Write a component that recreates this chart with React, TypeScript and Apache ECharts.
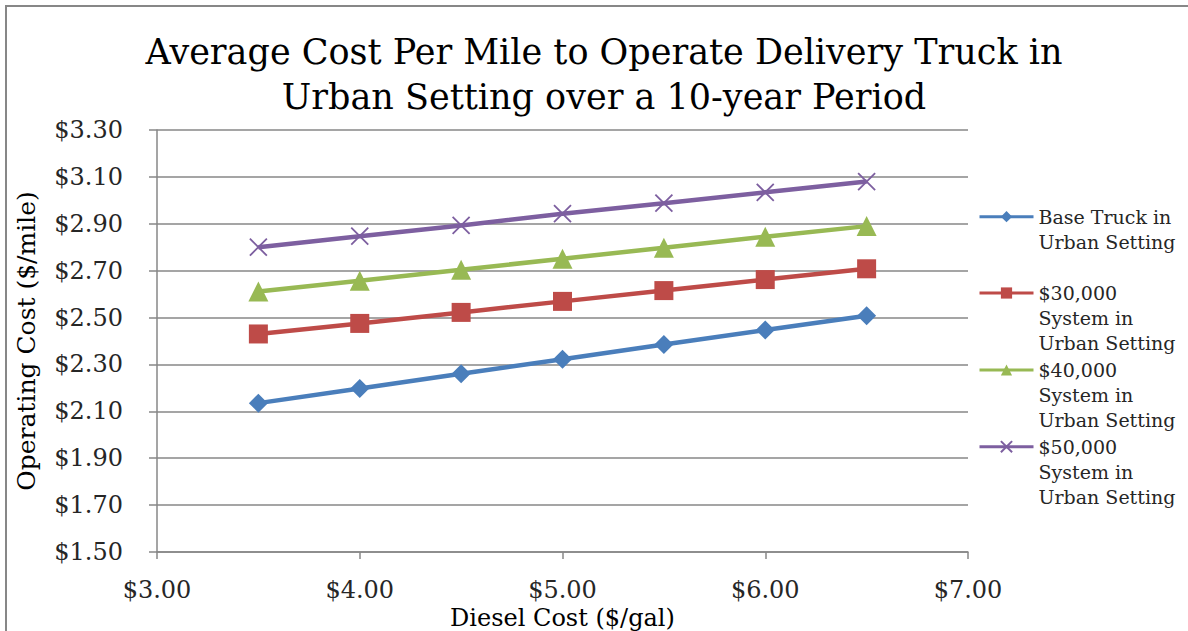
import React, { useEffect, useRef } from "react";
import * as echarts from "echarts";

const dieselCost = [3.5, 4, 4.5, 5, 5.5, 6, 6.5];
const baseTruck = [2.135, 2.197, 2.26, 2.322, 2.385, 2.447, 2.508];
const system30k = [2.43, 2.475, 2.522, 2.569, 2.615, 2.662, 2.708];
const system40k = [2.611, 2.657, 2.704, 2.751, 2.798, 2.845, 2.89];
const system50k = [2.8, 2.847, 2.893, 2.943, 2.988, 3.034, 3.08];
const yTicks = [1.5, 1.7, 1.9, 2.1, 2.3, 2.5, 2.7, 2.9, 3.1, 3.3];
const seriesNames = [
  "Base Truck in\nUrban Setting",
  "$30,000\nSystem in\nUrban Setting",
  "$40,000\nSystem in\nUrban Setting",
  "$50,000\nSystem in\nUrban Setting",
];
const titleText = "Average Cost Per Mile to Operate Delivery Truck in\nUrban Setting over a 10-year Period";
const xName = "Diesel Cost ($/gal)";
const yName = "Operating Cost ($/mile)";

const colors = ["#4A7EBB", "#BE4B48", "#98B954", "#7D5FA0"];
const symbols = ["diamond", "rect", "triangle", "path://M0,0L10,10M10,0L0,10"];
const FONT = "DejaVu Serif";

export default function App() {
  const ref = useRef<HTMLDivElement>(null);
  useEffect(() => {
    if (!ref.current) return;
    const chart = echarts.init(ref.current, null, { renderer: "svg" });
    const allData = [baseTruck, system30k, system40k, system50k];
    const iconCenters = [216.7, 293, 370, 446.7];
    const lh = 25;
    const legends = seriesNames.map((name, i) => {
      const n = name.split("\n").length;
      const H = (2 * n - 1) * lh;
      return {
        data: [name],
        left: 978,
        top: iconCenters[i] - H / 2,
        orient: "vertical",
        padding: 0,
        itemWidth: 54,
        itemHeight: 14,
        itemGap: 0,
        selectedMode: false,
        lineStyle: { width: 3 },
        formatter: (nm: string) => "\n".repeat(nm.split("\n").length - 1) + nm,
        textStyle: {
          fontFamily: FONT,
          fontSize: 19,
          lineHeight: lh,
          color: "#262626",
        },
      };
    });
    chart.setOption({
      animation: false,
      color: colors,
      title: {
        text: titleText,
        left: 599,
        top: 24,
        textAlign: "center",
        textStyle: {
          fontFamily: FONT,
          fontSize: 35,
          fontWeight: "normal",
          lineHeight: 45,
          color: "#000",
        },
      },
      legend: legends,
      grid: {
        left: 157,
        right: 220,
        top: 130,
        bottom: 79,
        containLabel: false,
        outerBoundsMode: "none",
      },
      xAxis: {
        type: "value",
        min: 3,
        max: 7,
        interval: 1,
        name: xName,
        nameLocation: "middle",
        nameGap: 54,
        nameMoveOverlap: false,
        nameTextStyle: { fontFamily: FONT, fontSize: 24, lineHeight: 23, color: "#000" },
        axisLine: { show: true, lineStyle: { color: "#878787", width: 1.5 } },
        axisTick: { show: true, length: 7, lineStyle: { color: "#878787", width: 1.5 } },
        splitLine: { show: false },
        axisLabel: {
          fontFamily: FONT,
          fontSize: 24,
          lineHeight: 24,
          color: "#262626",
          margin: 26,
          formatter: (v: number) => "$" + v.toFixed(2),
        },
      },
      yAxis: {
        type: "value",
        min: 1.5,
        max: 3.3,
        name: yName,
        nameLocation: "middle",
        nameGap: 118,
        nameMoveOverlap: false,
        nameTextStyle: { fontFamily: FONT, fontSize: 25, color: "#000" },
        axisLine: { show: true, lineStyle: { color: "#878787", width: 1.5 } },
        axisTick: { show: true, length: 8, customValues: yTicks, lineStyle: { color: "#878787", width: 1.5 } },
        splitLine: { show: true, lineStyle: { color: "#878787", width: 1.5 } },
        axisLabel: {
          fontFamily: FONT,
          fontSize: 24,
          color: "#262626",
          margin: 34,
          customValues: yTicks,
          formatter: (v: number) => "$" + v.toFixed(2),
        },
      },
      graphic: [
        {
          type: "rect",
          z: -10,
          shape: { x: 6, y: 6, width: 1220, height: 660 },
          style: { fill: "#fff", stroke: "#878787", lineWidth: 2 },
        },
      ],
      series: allData.map((d, i) => ({
        name: seriesNames[i],
        type: "line",
        data: d.map((v, j) => [dieselCost[j], v]),
        symbol: symbols[i],
        symbolSize: i === 3 ? 17 : i === 2 ? 20 : 19,
        lineStyle: { width: 4.5, color: colors[i] },
        itemStyle:
          i === 3
            ? { color: colors[i], borderColor: colors[i], borderWidth: 1.8 }
            : { color: colors[i], borderWidth: 0 },
      })),
    });
    return () => chart.dispose();
  }, []);
  return (
    <div
      ref={ref}
      style={{ position: "fixed", left: 0, top: 0, width: 1188, height: 631, background: "#fff" }}
    />
  );
}
